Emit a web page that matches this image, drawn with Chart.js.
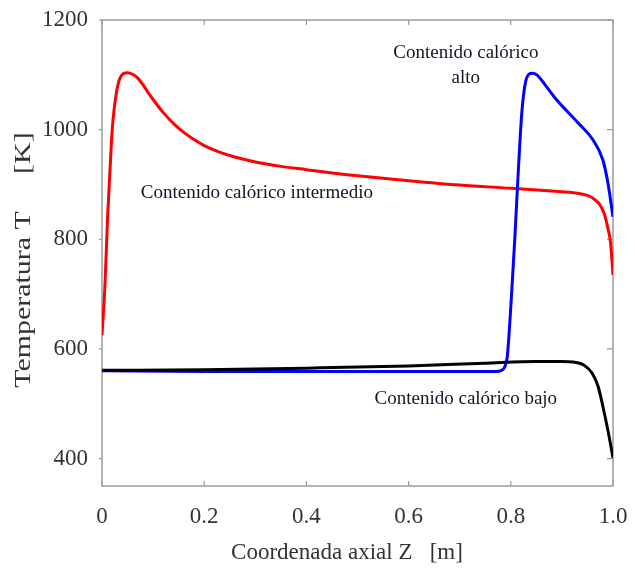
<!DOCTYPE html>
<html>
<head>
<meta charset="utf-8">
<script src="https://cdn.jsdelivr.net/npm/chart.js@4/dist/chart.umd.min.js"></script>
<style>
  html, body { margin: 0; padding: 0; background: #fff; }
  #wrap { width: 635px; height: 569px; }
</style>
</head>
<body>
<div id="wrap"><canvas id="tempChart"></canvas></div>
<script>
// Datos: coordenada axial Z [m] y temperatura T [K]
const zBajo = [0, 0.2, 0.4, 0.6, 0.75, 0.85, 0.9, 0.922, 0.942, 0.959, 0.971, 0.98, 0.991, 1.0];
const tBajo = [561, 562, 565, 569, 574, 577, 577, 576, 571, 556, 531, 496, 447, 401];

const zAlto = [0, 0.2, 0.4, 0.6, 0.77, 0.782, 0.788, 0.793, 0.798, 0.802, 0.808, 0.815, 0.822, 0.831, 0.841, 0.851, 0.87, 0.89, 0.93, 0.961, 0.98, 0.99, 1.0];
const tAlto = [560, 559, 559, 559, 559, 561, 567, 585, 647, 708, 804, 930, 1036, 1094, 1103, 1100, 1078, 1054, 1014, 981, 945, 903, 841];

const zInter = [0, 0.006, 0.011, 0.016, 0.02, 0.029, 0.039, 0.049, 0.06, 0.07, 0.08, 0.09, 0.1, 0.12, 0.14, 0.16, 0.18, 0.2, 0.23, 0.26, 0.3, 0.35, 0.4, 0.45, 0.5, 0.6, 0.7, 0.8, 0.88, 0.93, 0.95, 0.965, 0.975, 0.983, 0.99, 0.995, 1.0];
const tInter = [625, 720, 841, 932, 1000, 1072, 1100, 1104, 1101, 1094, 1082, 1068, 1055, 1031, 1011, 995, 982, 971, 959, 950, 941, 933, 927, 921, 916, 907, 899, 893, 888, 884, 880, 872, 862, 846, 820, 795, 735];

const xTicks = [0, 0.2, 0.4, 0.6, 0.8, 1.0];
const xTickLabels = ["0", "0.2", "0.4", "0.6", "0.8", "1.0"];
const yTicks = [400, 600, 800, 1000, 1200];

const xTitle = "Coordenada axial Z   [m]";
const yTitle = "Temperatura T     [K]";

// Etiquetas dentro del gráfico (en coordenadas de datos)
const labels = [
  { text: "Contenido calórico intermedio", z: 0.303, t: 884 },
  { text: "Contenido calórico", z: 0.712, t: 1140 },
  { text: "alto", z: 0.712, t: 1094 },
  { text: "Contenido calórico bajo", z: 0.712, t: 509 },
];

function toPoints(xs, ys) {
  return xs.map((x, i) => ({ x: x, y: ys[i] }));
}

const frameColor = "#9a9a9a";
const textColor = "#333333";

// Marco, marcas de escala, títulos y etiquetas
const framePlugin = {
  id: "frame",
  beforeDatasetsDraw(chart) {
    const { ctx, chartArea: a, scales } = chart;
    ctx.save();
    ctx.strokeStyle = frameColor;
    ctx.lineWidth = 1.5;
    ctx.strokeRect(a.left, a.top, a.right - a.left, a.bottom - a.top);
    ctx.lineWidth = 1.2;
    ctx.beginPath();
    xTicks.forEach((v) => {
      const px = scales.x.getPixelForValue(v);
      ctx.moveTo(px, a.bottom);
      ctx.lineTo(px, a.bottom - 5);
      ctx.moveTo(px, a.top);
      ctx.lineTo(px, a.top + 5);
    });
    yTicks.forEach((v) => {
      const py = scales.y.getPixelForValue(v);
      ctx.moveTo(a.left, py);
      ctx.lineTo(a.left - 3, py);
      ctx.moveTo(a.right, py);
      ctx.lineTo(a.right - 6, py);
    });
    ctx.stroke();
    ctx.restore();
  },
  afterDraw(chart) {
    const { ctx, scales } = chart;
    ctx.save();
    ctx.fillStyle = textColor;
    ctx.textAlign = "center";
    ctx.textBaseline = "middle";
    ctx.font = "23px 'Liberation Serif'";
    ctx.fillText(xTitle, 347, 553);

    ctx.translate(24, 260);
    ctx.rotate(-Math.PI / 2);
    ctx.scale(1.3, 1);
    ctx.fillText(yTitle, 0, 0);
    ctx.restore();

    ctx.save();
    ctx.fillStyle = "#141428";
    ctx.textAlign = "center";
    ctx.textBaseline = "middle";
    ctx.font = "19px 'Liberation Serif'";
    labels.forEach((l) => {
      ctx.fillText(l.text, scales.x.getPixelForValue(l.z), scales.y.getPixelForValue(l.t));
    });
    ctx.restore();
  },
};

const ctx = document.getElementById("tempChart").getContext("2d");

const chart = new Chart(ctx, {
  type: "scatter",
  data: {
    datasets: [
      {
        label: "Contenido calórico bajo",
        data: toPoints(zBajo, tBajo),
        borderColor: "#000000",
      },
      {
        label: "Contenido calórico alto",
        data: toPoints(zAlto, tAlto),
        borderColor: "#0000ff",
      },
      {
        label: "Contenido calórico intermedio",
        data: toPoints(zInter, tInter),
        borderColor: "#ff0000",
      },
    ],
  },
  options: {
    responsive: true,
    maintainAspectRatio: false,
    animation: false,
    showLine: true,
    layout: { padding: { left: 0, right: 22, top: 20, bottom: 0 } },
    elements: {
      point: { radius: 0, hoverRadius: 0 },
      line: { borderWidth: 3, cubicInterpolationMode: "monotone" },
    },
    plugins: {
      legend: { display: false },
      tooltip: { enabled: false },
    },
    scales: {
      x: {
        type: "linear",
        min: 0,
        max: 1,
        grid: { display: false, drawTicks: false },
        border: { display: false },
        afterBuildTicks: (s) => {
          s.ticks = xTicks.map((v) => ({ value: v }));
        },
        afterFit: (s) => {
          s.height = 83;
          s.paddingLeft = 0;
          s.paddingRight = 0;
        },
        ticks: {
          autoSkip: false,
          maxRotation: 0,
          padding: 17,
          color: textColor,
          font: { family: "'Liberation Serif'", size: 23 },
          callback: (v) => xTickLabels[xTicks.indexOf(v)],
        },
      },
      y: {
        type: "linear",
        min: 350,
        max: 1200,
        grid: { display: false, drawTicks: false },
        border: { display: false },
        afterBuildTicks: (s) => {
          s.ticks = yTicks.map((v) => ({ value: v }));
        },
        afterFit: (s) => {
          s.width = 102;
          s.paddingTop = 0;
          s.paddingBottom = 0;
        },
        ticks: {
          autoSkip: false,
          padding: 14,
          color: textColor,
          font: { family: "'Liberation Serif'", size: 23 },
          callback: (v) => String(v),
        },
      },
    },
  },
  plugins: [framePlugin],
});
</script>
</body>
</html>
